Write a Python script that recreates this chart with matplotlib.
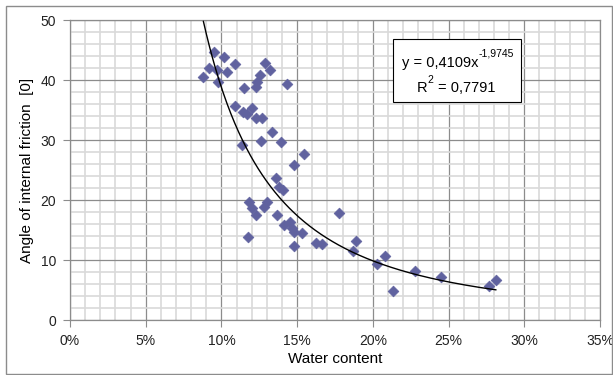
import numpy as np
import matplotlib.pyplot as plt
from matplotlib import font_manager
from matplotlib.ticker import MultipleLocator, PercentFormatter
from matplotlib.patches import Rectangle

# water content (fraction) and angle of internal friction (deg)
water_content = [
    0.0951, 0.1019, 0.0916, 0.0969, 0.0881, 0.1092, 0.1039, 0.0978,
    0.1290, 0.1323, 0.1255, 0.1237, 0.1229, 0.1151, 0.1435, 0.1092,
    0.1141, 0.1167, 0.1202, 0.1229, 0.1270, 0.1332, 0.1260, 0.1394,
    0.1134, 0.1544, 0.1482, 0.1361, 0.1380, 0.1409, 0.1185, 0.1299,
    0.1281, 0.1200, 0.1229, 0.1370, 0.1453, 0.1413, 0.1464, 0.1480,
    0.1534, 0.1178, 0.1480, 0.1625, 0.1664, 0.1777, 0.1889, 0.1871,
    0.2030, 0.2080, 0.2136, 0.2281, 0.2448, 0.2765, 0.2812,
]
friction_angle = [
    44.7, 43.8, 42.0, 41.6, 40.5, 42.7, 41.3, 39.6,
    42.9, 41.6, 40.8, 39.7, 38.9, 38.7, 39.4, 35.7,
    34.7, 34.3, 35.4, 33.6, 33.6, 31.3, 29.9, 29.7,
    29.2, 27.6, 25.8, 23.6, 22.2, 21.7, 19.7, 19.6,
    18.9, 18.6, 17.5, 17.5, 16.4, 15.8, 15.3, 14.6,
    14.5, 13.8, 12.3, 12.9, 12.7, 17.8, 13.1, 11.5,
    9.4, 10.6, 4.8, 8.2, 7.1, 5.6, 6.7,
]

# power trendline reported on the chart
coef_a = 0.4109
coef_b = -1.9745
eq_main = "y = 0,4109x"
eq_exp = "-1,9745"
eq_r2 = "0,7791"

installed = {f.name for f in font_manager.fontManager.ttflist}
narrow = "Liberation Sans Narrow" if "Liberation Sans Narrow" in installed else "Liberation Sans"
plt.rcParams["font.family"] = [narrow, "DejaVu Sans"]

fig = plt.figure(figsize=(6.13, 3.75), dpi=100)
ax = fig.add_axes([70 / 613, 1 - 320 / 375, 530 / 613, 300 / 375])

ax.set_xlim(0, 0.35)
ax.set_ylim(0, 50)
ax.xaxis.set_major_locator(MultipleLocator(0.05))
ax.xaxis.set_minor_locator(MultipleLocator(0.01))
ax.yaxis.set_major_locator(MultipleLocator(10))
ax.yaxis.set_minor_locator(MultipleLocator(2))
ax.xaxis.set_major_formatter(PercentFormatter(xmax=1, decimals=0))

ax.grid(which="minor", color="#d9d9d9", linewidth=1.2)
ax.grid(which="major", color="#8c8c8c", linewidth=0.9)
ax.set_axisbelow(True)
for s in ax.spines.values():
    s.set_color("#8c8c8c")
    s.set_linewidth(0.9)
ax.tick_params(which="major", direction="out", length=5, color="#8c8c8c",
               labelsize=10, labelcolor="#222222", pad=5)
ax.tick_params(which="minor", length=0)

ax.scatter(water_content, friction_angle, marker="D", s=30,
           color="#60629f", edgecolors="#60629f", linewidths=0.5, zorder=3)

x_fit = np.linspace(min(water_content), max(water_content), 300)
y_fit = coef_a * x_fit ** coef_b
ax.plot(x_fit, y_fit, color="black", linewidth=1.0, zorder=4)

ax.set_xlabel("Water content", fontsize=11, labelpad=3)
ax.set_ylabel("Angle of internal friction  [0]", fontsize=11, labelpad=5)

# equation box
ax.add_patch(Rectangle((0.609, 0.727), 0.2415, 0.21, transform=ax.transAxes,
                       facecolor="white", edgecolor="black", linewidth=0.8,
                       zorder=5))
eq_font = ["Liberation Sans", "DejaVu Sans"]
ax.text(0.770, 0.855, eq_main, transform=ax.transAxes, ha="right",
        va="center", fontsize=10.5, family=eq_font, zorder=6)
ax.text(0.771, 0.888, eq_exp, transform=ax.transAxes, ha="left",
        va="center", fontsize=7.5, family=eq_font, zorder=6)
ax.text(0.674, 0.775, "R", transform=ax.transAxes, ha="right",
        va="center", fontsize=10.5, family=eq_font, zorder=6)
ax.text(0.675, 0.800, "2", transform=ax.transAxes, ha="left",
        va="center", fontsize=7.5, family=eq_font, zorder=6)
ax.text(0.694, 0.775, "= " + eq_r2, transform=ax.transAxes, ha="left",
        va="center", fontsize=10.5, family=eq_font, zorder=6)

fig.patches.append(Rectangle((6 / 613, 0.002), 605.5 / 613, 1 - 6 / 375 - 0.002,
                             transform=fig.transFigure, fill=False,
                             edgecolor="#8c8c8c", linewidth=1.0))

fig.savefig("out.png", dpi=100)
plt.close(fig)
